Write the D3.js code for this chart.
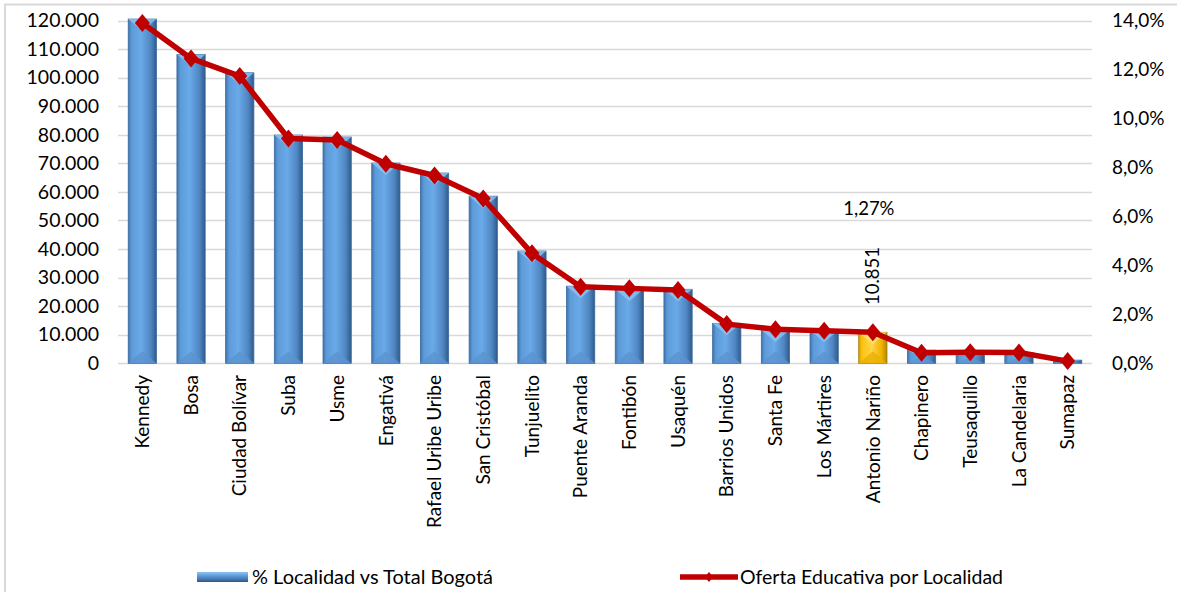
<!DOCTYPE html>
<html><head><meta charset="utf-8">
<script src="https://cdn.jsdelivr.net/npm/d3@7/dist/d3.min.js"></script>
<style>
html,body{margin:0;padding:0;background:#fff;}
svg{display:block;font-family:Lato,"Open Sans",sans-serif;}
</style></head>
<body><svg id="chart" width="1177" height="592"></svg>
<script>
const categories = ["Kennedy","Bosa","Ciudad Bolívar","Suba","Usme","Engativá","Rafael Uribe Uribe","San Cristóbal","Tunjuelito","Puente Aranda","Fontibón","Usaquén","Barrios Unidos","Santa Fe","Los Mártires","Antonio Nariño","Chapinero","Teusaquillo","La Candelaria","Sumapaz"];
const barValues = [120500,108100,101700,79900,79200,70100,66600,58500,39300,27000,25900,25900,14000,11650,11600,10851,4600,4200,3800,1100];
const linePct = [13.9,12.45,11.73,9.18,9.12,8.15,7.67,6.73,4.49,3.13,3.06,2.99,1.60,1.39,1.33,1.27,0.43,0.45,0.44,0.09];
const leftTicks = [0,10000,20000,30000,40000,50000,60000,70000,80000,90000,100000,110000,120000];
const rightTicks = [0,2,4,6,8,10,12,14];
const highlight = "Antonio Nariño";
const barLabel = "10.851";
const lineLabel = "1,27%";
const legendBar = "% Localidad vs Total Bogotá";
const legendLine = "Oferta Educativa por Localidad";

const svg = d3.select("#chart");
const L = 118, R = 1092, T = 20.5, B = 363.3;

// outer border
svg.append("rect").attr("x",5).attr("y",4.5).attr("width",1175).attr("height",600)
  .attr("fill","none").attr("stroke","#d9d9d9").attr("stroke-width",2);

const x = d3.scaleBand().domain(categories).range([L,R]).paddingInner(0.42).paddingOuter(0.21);
const y = d3.scaleLinear().domain([0,120000]).range([B,T]);
const y2 = d3.scaleLinear().domain([0,14]).range([B,T]);

const defs = svg.append("defs");
function grad(id, stops){
  const g = defs.append("linearGradient").attr("id",id).attr("x1","0").attr("x2","1").attr("y1","0").attr("y2","0");
  stops.forEach(s=>g.append("stop").attr("offset",s[0]).attr("stop-color",s[1]));
}
grad("gBlue",[[0,"#3e74ad"],[0.12,"#5d9ad8"],[0.45,"#6aaae8"],[0.8,"#4f86c2"],[1,"#2f5a8a"]]);
grad("gGold",[[0,"#d9a000"],[0.12,"#ffc20e"],[0.45,"#ffd54a"],[0.8,"#f0b400"],[1,"#b88700"]]);
const gv = defs.append("linearGradient").attr("id","gBlueV").attr("x1","0").attr("x2","0").attr("y1","0").attr("y2","1");
[[0,"#8cc3f2"],[0.4,"#5d9ad8"],[1,"#2f5a8a"]].forEach(s=>gv.append("stop").attr("offset",s[0]).attr("stop-color",s[1]));

// gridlines
const grid = svg.append("g");
grid.selectAll("line").data(leftTicks).join("line")
  .attr("x1",L).attr("x2",R).attr("y1",d=>Math.round(y(d))+0.5).attr("y2",d=>Math.round(y(d))+0.5)
  .attr("stroke","#d9d9d9").attr("stroke-width",1.5);

// left axis
const ax = d3.axisLeft(y).tickValues(leftTicks).tickSize(0).tickPadding(0)
  .tickFormat(d=>d===0?"0":d3.format(",")(d).replace(/,/g,"."));
const gl = svg.append("g").attr("transform","translate(99,0)").call(ax);
gl.select(".domain").remove();
gl.selectAll("text").attr("font-size","19.5px").attr("fill","#000").attr("font-family","Lato");

// right axis
const ax2 = d3.axisRight(y2).tickValues(rightTicks).tickSize(0).tickPadding(0)
  .tickFormat(d=>d3.format(".1f")(d).replace(".",",")+"%");
const gr = svg.append("g").attr("transform","translate(1112,0)").call(ax2);
gr.select(".domain").remove();
gr.selectAll("text").attr("font-size","19px").attr("fill","#000").attr("font-family","Lato");

// bars
const bw = x.bandwidth();
const bars = svg.append("g").selectAll("g").data(categories).join("g");
bars.each(function(c,i){
  const g = d3.select(this);
  const x0 = x(c), y0 = y(barValues[i]), h = B - y0;
  const gold = c===highlight;
  g.append("rect").attr("x",x0).attr("y",y0).attr("width",bw).attr("height",h)
    .attr("fill",gold?"url(#gGold)":"url(#gBlue)").attr("stroke",gold?"#a07a00":"#3a6a9e").attr("stroke-width",0.8);
  const bev = Math.min(bw/2, h/2, 12);
  g.append("path").attr("d",`M${x0},${y0}L${x0+bw},${y0}L${x0+bw/2},${y0+bev}Z`)
    .attr("fill",gold?"#ffe27a":"#8cc3f2").attr("opacity",0.8);
  g.append("path").attr("d",`M${x0},${B}L${x0+bw},${B}L${x0+bw/2},${B-bev}Z`)
    .attr("fill",gold?"#e8b000":"#5b93cf").attr("opacity",0.8);
});

// line
const line = d3.line().x((d,i)=>x(categories[i])+bw/2).y(d=>y2(d));
svg.append("path").datum(linePct).attr("d",line).attr("fill","none")
  .attr("stroke","#c00000").attr("stroke-width",5.5).attr("stroke-linejoin","round");
svg.append("g").selectAll("path").data(linePct).join("path")
  .attr("d",d=>"M0,-9L7.5,0L0,9L-7.5,0Z")
  .attr("transform",(d,i)=>`translate(${x(categories[i])+bw/2},${y2(d)})`)
  .attr("fill","#c00000");

// x labels
svg.append("g").selectAll("text").data(categories).join("text")
  .attr("transform",c=>`translate(${x(c)+bw/2},375) rotate(-90)`)
  .attr("text-anchor","end").attr("dy","0.35em").attr("font-size","19px").attr("fill","#000")
  .text(c=>c);

// data labels
svg.append("text").attr("transform",`translate(${x(highlight)+bw/2},305) rotate(-90)`)
  .attr("text-anchor","start").attr("dy","0.35em").attr("font-size","18.5px").text(barLabel);
svg.append("text").attr("x",x(highlight)+bw/2-4).attr("y",215).attr("text-anchor","middle")
  .attr("font-size","18.5px").text(lineLabel);

// legend
const lg = svg.append("g");
lg.append("rect").attr("x",197).attr("y",572).attr("width",51).attr("height",10).attr("fill","url(#gBlueV)");
lg.append("text").attr("x",252).attr("y",577).attr("dy","0.35em").attr("font-size","19.5px")
  .attr("textLength",241).attr("lengthAdjust","spacingAndGlyphs").text(legendBar);
lg.append("line").attr("x1",680).attr("x2",738).attr("y1",577).attr("y2",577).attr("stroke","#c00000").attr("stroke-width",5.5);
lg.append("path").attr("d","M0,-5L4,0L0,5L-4,0Z").attr("transform","translate(709,577)").attr("fill","#c00000");
lg.append("text").attr("x",740).attr("y",577).attr("dy","0.35em").attr("font-size","19.5px")
  .attr("textLength",263).attr("lengthAdjust","spacingAndGlyphs").text(legendLine);
</script></body></html>
